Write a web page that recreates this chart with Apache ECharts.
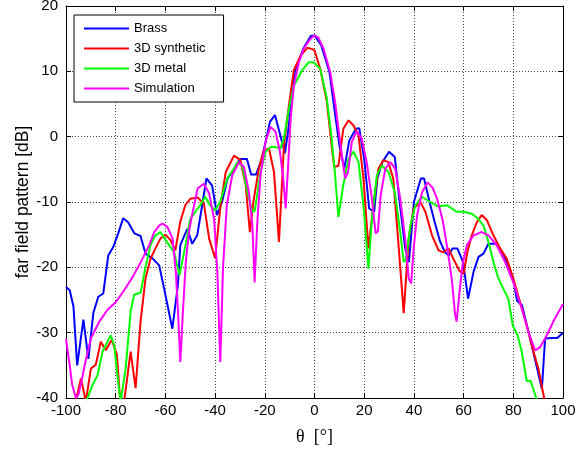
<!DOCTYPE html>
<html>
<head>
<meta charset="utf-8">
<script src="https://cdn.jsdelivr.net/npm/echarts@6/dist/echarts.min.js"></script>
<style>html,body{margin:0;padding:0;background:#fff}#c{width:584px;height:450px}</style>
</head>
<body>
<div id="c"></div>
<script>
var seriesNames = ['Brass', '3D synthetic', '3D metal', 'Simulation'];
var xTicks = [-100, -80, -60, -40, -20, 0, 20, 40, 60, 80, 100];
var yTicks = [-40, -30, -20, -10, 0, 10, 20];

var brass = [[-100,-23],[-98.5,-23.5],[-97,-26],[-95.5,-35],[-93,-28],[-91,-34],[-89,-27],[-87,-24.5],[-85,-24],[-83,-18.2],[-81,-16.9],[-79,-14.8],[-77,-12.5],[-75,-13.1],[-72.5,-14.8],[-70,-15.2],[-68,-17.9],[-65,-18.7],[-62.5,-19.7],[-60.5,-23.3],[-57.2,-29.4],[-55,-22.8],[-54,-16.6],[-51.2,-14.1],[-49.2,-16.4],[-47.2,-15.1],[-45.2,-10.5],[-43.5,-6.4],[-41.2,-7.5],[-39.2,-12],[-37.2,-10],[-35,-6.4],[-32,-4.9],[-30,-3.4],[-27.2,-3.4],[-25.5,-5.8],[-23.5,-5.8],[-21.2,-3.4],[-17.9,2.3],[-15.9,3.3],[-11.9,-2.5],[-10.5,1.2],[-7.9,9.9],[-4.5,13.5],[-1.5,15.4],[0,15.5],[2.7,14],[6,9.9],[8,4.3],[10,-1.3],[12,-4.9],[14,-0.6],[16.7,1.2],[18,1.3],[20,-3.4],[22,-11],[24,-11.5],[25.3,-6.4],[27.3,-3.9],[30,-2.3],[32.3,-3.1],[34.1,-9.5],[36.5,-17.1],[38,-19.2],[40,-10],[42.8,-6.4],[44.1,-6.4],[46.3,-10],[48.3,-13],[50.5,-16],[52.5,-17.7],[54,-18.2],[55.5,-17.1],[57.5,-17.1],[59.8,-19.2],[61.8,-24.8],[64,-20.7],[66,-18.4],[68,-17.9],[70,-16.4],[73,-16.4],[75.5,-17.7],[77.7,-19.5],[79.9,-21.7],[81.5,-25.1],[83.5,-25.8],[85.5,-28.9],[88,-32.9],[91.5,-38.6],[92.8,-30.9],[95.5,-30.8],[97.7,-30.8],[100,-30]];

var synthetic = [[-97,-42],[-94,-37],[-92,-40.5],[-90,-35.5],[-88,-34.9],[-86,-31.4],[-84,-32.7],[-81.6,-31.1],[-79.5,-33.4],[-78.2,-40.5],[-76.6,-40.5],[-74,-32.9],[-72,-38.5],[-70,-28.3],[-68,-21.7],[-66,-18.7],[-64,-17.1],[-62,-15.6],[-60,-15],[-58,-15.8],[-56,-17.4],[-54,-13],[-52,-10.5],[-50,-9.5],[-47,-9.3],[-44.5,-10.3],[-42.4,-15.6],[-40,-18.6],[-37.8,-10.5],[-35.7,-5.4],[-32.4,-2.9],[-29.8,-3.6],[-27.7,-7.4],[-26,-14.6],[-24.4,-9.5],[-22.4,-4.9],[-20.4,-2.1],[-18.3,-1.8],[-16.3,-5.4],[-14.3,-16.1],[-12.3,-1.3],[-10.3,4.8],[-8.3,10.2],[-5.6,12.4],[-2.9,13.6],[-0.9,13.4],[0,13.2],[2.3,10.4],[5,5.3],[6.5,0],[7.9,-4.6],[9.6,-4.5],[11.6,1.2],[13.7,2.5],[15.7,1.7],[17.7,0.2],[19.7,-6.4],[21.7,-17.1],[23.7,-10.5],[25.7,-4.9],[27.7,-3.6],[29.7,-3.9],[31.7,-6.4],[33.9,-17],[35.9,-27],[37.9,-15.6],[39.9,-11],[42.6,-10],[44.6,-11.5],[47.3,-15.1],[49.9,-17.4],[51.9,-17.7],[53.9,-17.1],[55.9,-18.7],[58.3,-20.5],[60,-21],[61.6,-17.5],[63.3,-15.1],[65.3,-13.1],[67.3,-12],[69.4,-12.8],[72,-15.1],[74.7,-17.1],[77.4,-18.7],[80,-21.7],[82.7,-25.3],[85.4,-28.9],[88.1,-32.9],[90.1,-35.5],[92.4,-40],[93,-42]];

var metal = [[-96,-42],[-91.3,-40],[-89.3,-38],[-87.3,-36.5],[-85.3,-32.9],[-82,-30.4],[-80.6,-31.9],[-78.6,-39],[-78,-40.5],[-76,-35.5],[-74,-26.8],[-72.6,-24.2],[-70,-23.9],[-68,-20],[-66,-16.6],[-64,-15.1],[-62,-14.6],[-60,-15.8],[-56.5,-17.7],[-54.3,-21.2],[-52,-16.8],[-50,-12.6],[-46,-10.5],[-44,-9.2],[-42,-10.5],[-40,-11.3],[-38,-10],[-35.1,-6.4],[-32.4,-4.9],[-31,-3.9],[-29,-4.5],[-27,-8.5],[-25,-11.5],[-24,-11.3],[-21.7,-5.4],[-19.7,-2.3],[-17.7,-1.6],[-15.7,-1.6],[-13.7,-1.8],[-12.3,-0.3],[-10.3,4.3],[-8.3,7.8],[-4.9,10.2],[-2.3,11.4],[-0.4,11.4],[2.3,10.4],[5,5.8],[6.8,0],[8.3,-5.9],[9.6,-12.3],[11.6,-7.4],[13.7,-3.4],[15.7,-2.3],[17.7,-3.9],[19.7,-10.5],[21.7,-20.2],[23.1,-12.6],[25.1,-5.9],[27.1,-4.4],[29.8,-5.4],[32.4,-8.7],[34.5,-14.6],[35.9,-19.2],[36.8,-18.8],[38.6,-13.6],[40.6,-10.5],[43.2,-9.2],[46.6,-10],[49.9,-10.7],[53.3,-10.5],[57.3,-11.5],[60,-11.5],[63.3,-11.8],[66,-12.6],[68,-13.6],[70,-16.1],[72,-19.2],[74,-21.7],[76,-23.3],[78,-24.8],[79.8,-28.9],[81.7,-30.4],[83.4,-32.9],[85.4,-37.4],[87,-37.4],[89.2,-40],[90,-41]];

var simulation = [[-100,-31],[-98.5,-35],[-97.5,-38],[-96,-40],[-95,-39.5],[-93.5,-37],[-92.5,-35],[-90,-30.9],[-86.6,-28.3],[-83.3,-26.5],[-79.9,-25.3],[-76.6,-23.5],[-73.2,-21.5],[-69.9,-19.2],[-66.5,-16.6],[-64.5,-14.6],[-62.5,-13.6],[-61.2,-13.3],[-59.2,-13.8],[-57.1,-15.6],[-55.8,-20.7],[-54.9,-27],[-54,-34.5],[-53.1,-27.8],[-51.8,-19.2],[-50.5,-14.5],[-49,-11.5],[-47,-7.9],[-44.5,-7.2],[-42.4,-8.7],[-40.4,-12.6],[-39.1,-20.7],[-37.9,-34.5],[-36.8,-20],[-35.3,-10.5],[-33.1,-5.9],[-30.4,-3.9],[-28.4,-4.6],[-26.4,-8.5],[-25,-13.6],[-24.1,-22.3],[-23,-13],[-21.7,-5.9],[-19.7,-0.8],[-17.7,1.5],[-15.7,0.8],[-13.9,-2.3],[-12.6,-6.4],[-11.6,-11],[-10.7,-5],[-9.6,2.8],[-8.3,7.8],[-6.3,11.4],[-4.3,13.5],[-1.6,15],[0,15.5],[1.5,15.2],[3.6,13.5],[6.3,9.9],[8.3,5.3],[10.3,-0.8],[12.3,-6.4],[13.5,-5.5],[15,-0.8],[17,0.8],[19,-0.3],[21,-3.9],[23.1,-9.5],[24.6,-14.8],[25.5,-14.5],[26.6,-9],[28.5,-4.9],[30.5,-3.9],[32.5,-4.9],[34.5,-9.5],[36.5,-15.6],[37.9,-21.7],[38.9,-22.5],[39.9,-17.1],[41.3,-12],[43.3,-8.5],[45.5,-7],[47.5,-7.8],[49.3,-9.5],[51.6,-12.8],[53.6,-17.4],[55.3,-22],[56.6,-27.3],[57.2,-28.3],[58.3,-24],[59.6,-19.5],[61.3,-16.6],[64,-15.1],[67.3,-14.6],[70,-15.1],[73.3,-16.6],[76.7,-19.2],[80,-22.3],[83.4,-26.3],[86.1,-29.9],[88.8,-32.7],[90.8,-32.2],[93.5,-30.4],[96.1,-28.3],[100,-25.6]];

var colors = ['#0000ff', '#ff0000', '#00ff00', '#ff00ff'];
var allData = [brass, synthetic, metal, simulation];

var chart = echarts.init(document.getElementById('c'), null, {renderer: 'canvas'});
var font = 'Liberation Sans, Arial, sans-serif';
var gridLine = {show: true, lineStyle: {color: '#444', type: [1, 2], width: 1}};

function xAx(pos, main) {
  return {
    type: 'value', position: pos, min: xTicks[0], max: xTicks[xTicks.length - 1], interval: 20,
    axisLine: {show: true, onZero: false, lineStyle: {color: '#000', width: 1}},
    axisTick: {show: true, inside: true, length: 5, lineStyle: {color: '#000'}},
    axisLabel: {show: main, color: '#000', fontSize: 15, fontFamily: font, margin: 5},
    splitLine: main ? gridLine : {show: false},
    name: main ? 'θ  [°]' : '', nameLocation: 'middle', nameGap: 30, nameMoveOverlap: false,
    nameTextStyle: {color: '#000', fontSize: 18, fontFamily: 'Liberation Serif, Times New Roman, serif'}
  };
}
function yAx(pos, main) {
  return {
    type: 'value', position: pos, min: yTicks[0], max: yTicks[yTicks.length - 1], interval: 10,
    axisLine: {show: true, onZero: false, lineStyle: {color: '#000', width: 1}},
    axisTick: {show: true, inside: true, length: 5, lineStyle: {color: '#000'}},
    axisLabel: {show: main, color: '#000', fontSize: 15, fontFamily: font, margin: 8},
    splitLine: main ? gridLine : {show: false},
    name: main ? 'far field pattern [dB]' : '', nameLocation: 'middle', nameGap: 34, nameMoveOverlap: false,
    nameTextStyle: {color: '#000', fontSize: 17.5, fontFamily: font}
  };
}

var option = {
  backgroundColor: '#fff',
  animation: false,
  grid: {left: 66, right: 21, top: 6, bottom: 52, containLabel: false, outerBoundsMode: 'none'},
  legend: {
    orient: 'vertical', left: 74, top: 15,
    itemWidth: 45, itemHeight: 14, itemGap: 7,
    padding: [7, 18, 7, 9],
    backgroundColor: '#fff', borderColor: '#000', borderWidth: 1,
    itemStyle: {opacity: 0},
    lineStyle: {width: 2},
    textStyle: {color: '#000', fontSize: 13, fontFamily: font},
    data: seriesNames
  },
  xAxis: [xAx('bottom', true), xAx('top', false)],
  yAxis: [yAx('left', true), yAx('right', false)],
  series: seriesNames.map(function (n, i) {
    return {
      name: n, type: 'line', xAxisIndex: 0, yAxisIndex: 0,
      data: allData[i], symbol: 'none', showSymbol: false, clip: true,
      lineStyle: {color: colors[i], width: 2}, itemStyle: {color: colors[i]}, z: 2 + i
    };
  })
};
chart.setOption(option);
</script>
</body>
</html>
